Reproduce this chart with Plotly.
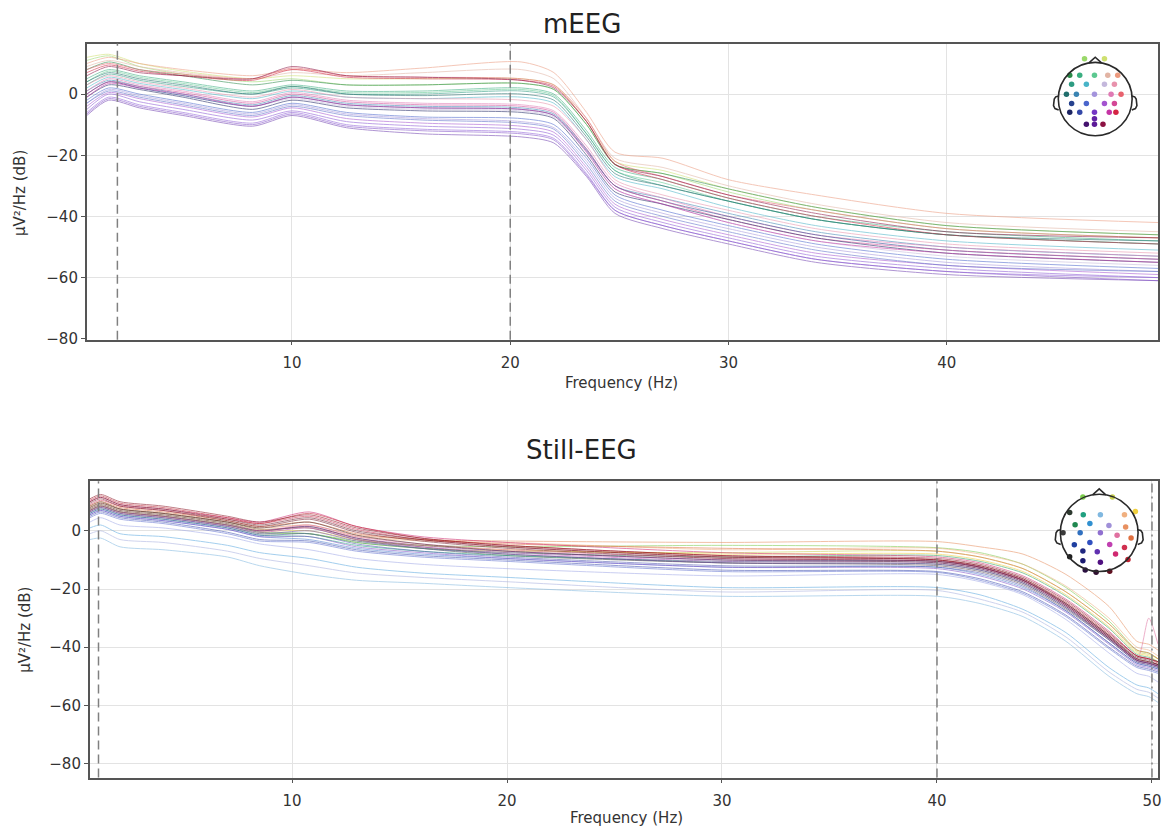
import plotly.graph_objects as go

W, H = 1163, 839

# ---------------------------------------------------------------- data: mEEG (top panel)
meeg_freqs = [0.6, 1.6, 3, 5, 8.2, 10, 12.5, 16, 20.5, 22, 23.5, 24.8, 27, 30, 34, 40, 49.7]

meeg_Fp1 = [11, 12.5, 9, 6.5, 4, 5, 3, 3, 3.5, 1.5, -10, -23, -26, -32, -38, -44, -47]
meeg_Fp2 = [12, 13, 10, 7.5, 5, 6, 5, 5, 5, 3, -9, -22, -25, -31, -37, -43, -46]
meeg_F7 = [8, 10.5, 8, 6, 3, 4.5, 3, 3, 3.5, 1.5, -10, -23, -26, -31, -37, -43, -46]
meeg_F3 = [5, 8, 6, 4, 1, 3, 1, 1, 2, 0, -12, -24, -28, -34, -40, -45, -48]
meeg_Fz = [4, 7.5, 5.5, 3.5, 0.5, 2.5, 0.5, 0.5, 1.5, -0.5, -13, -25, -29, -35, -41, -46, -49]
meeg_F4 = [9, 11, 9, 7, 5, 7, 6, 7, 8, 5, -8, -21, -24, -30, -36, -42, -45]
meeg_F8 = [10, 12, 10, 8, 6, 8, 7, 8.5, 10.5, 7, -6, -19, -21, -28, -33, -39, -42]
meeg_FC5 = [3, 6.5, 4.5, 2.5, 0, 2, 0, 0, 1, -1, -13, -25, -30, -35, -41, -46, -49]
meeg_FC1 = [2, 5.5, 3.5, 1.5, -1.5, 1, -1, -1.5, -1, -3, -15, -27, -31, -37, -43, -48, -51]
meeg_FC2 = [0, 4, 2, -0.5, -4, -1.5, -4, -5, -5.5, -7.5, -19, -31, -36, -42, -48, -53, -56]
meeg_FC6 = [3, 6, 4, 2, -1, 1.5, -1, -1.5, -2, -4, -15, -28, -33, -38, -44, -49, -52]
meeg_T7 = [4, 7, 5, 3, 0, 2.5, 0, -0.5, 0, -2, -14, -26, -30, -35, -41, -46, -48]
meeg_C3 = [1, 4.5, 2.5, 0, -3.5, -0.5, -3, -4, -4.5, -6.5, -18, -30, -34, -39, -45, -50, -53]
meeg_Cz = [-3, 1.5, -0.5, -3, -6.5, -3.5, -6.5, -8, -9, -11, -22, -34, -39, -44, -50, -55, -58]
meeg_C4 = [1, 5, 3, 1, -2.5, 0.5, -2, -3, -3.5, -5.5, -17, -29, -34, -40, -46, -50, -53]
meeg_T8 = [8, 10, 8, 6.5, 5, 8.5, 6, 5.5, 5, 3, -8, -22, -27, -33, -38, -44, -47]
meeg_CP5 = [0, 4, 2, -0.5, -4, -1, -3.5, -4.5, -5, -7, -18.5, -30, -35, -40, -46, -51, -54]
meeg_CP1 = [-2, 2, 0, -2.5, -6, -3, -6, -7.5, -8, -10, -21, -33, -38, -43, -49, -54, -57]
meeg_CP2 = [-4, 0.5, -1.5, -4, -7.5, -4.5, -8, -9.5, -10.5, -12.5, -24, -36, -41, -46, -52, -56, -59]
meeg_CP6 = [0, 4, 2.5, 0.5, -3, 0, -2.5, -3.5, -4, -6, -18, -30, -35, -41, -47, -51, -54]
meeg_P7 = [-1, 3, 1.5, -1, -5, -2, -4.5, -5.5, -6, -8, -20, -32, -36, -41, -47, -52, -55]
meeg_P3 = [-3, 1, -1, -3.5, -7, -4, -7, -8.5, -9.5, -11.5, -23, -35, -40, -45, -51, -56, -58]
meeg_Pz = [-5, 0, -2.5, -5, -8.5, -5.5, -9, -10.5, -11.5, -13.5, -25, -37, -42, -47, -53, -57, -60]
meeg_P4 = [-1, 3.5, 2, 0, -4, -1, -3.5, -4.5, -5, -7, -19, -31, -36, -42, -48, -52, -55]
meeg_P8 = [7, 9.5, 7.5, 6, 4.5, 8, 5.5, 5, 4.5, 2.5, -9, -23, -28, -34, -40, -46, -49]
meeg_POz = [-6, -1, -3.5, -6, -9.5, -6, -10, -11.5, -12.5, -14.5, -26, -38, -43, -48, -54, -58, -60]
meeg_O1 = [-7, -2, -4.5, -7, -10.5, -7, -11, -13, -14, -16, -27, -39, -44, -49, -55, -59, -61]
meeg_Oz = [-6.5, -1.5, -4, -6.5, -10, -6.5, -10.5, -12, -13, -15, -26.5, -38, -43, -48, -54, -58, -61]
meeg_O2 = [6, 9, 7, 6, 5, 9, 6, 5.5, 4.5, 2, -9, -23, -27, -33, -39, -45, -47]

meeg_channels = ["Fp1", "Fp2", "F7", "F3", "Fz", "F4", "F8", "FC5", "FC1", "FC2", "FC6",
                 "T7", "C3", "Cz", "C4", "T8", "CP5", "CP1", "CP2", "CP6",
                 "P7", "P3", "Pz", "P4", "P8", "POz", "O1", "Oz", "O2"]
meeg_colors = ["#9ad86a", "#cfe070", "#2a8a48", "#3aae80", "#5cc890", "#e2b4a4", "#ec9a7e",
               "#2e9c82", "#48b4c8", "#c4b8dc", "#e892ac", "#206e6c", "#3a84b2", "#a494dc",
               "#e07ab4", "#e8626e", "#26428e", "#4a66cc", "#a454d0", "#d44896", "#1c2462",
               "#5a6cc8", "#8a56d4", "#c434a4", "#d42444", "#9060d8", "#7040b0", "#8250c8",
               "#8c1242"]
meeg_sensor_x = [-0.29, 0.25, -0.69, -0.42, -0.02, 0.34, 0.61, -0.64, -0.24, 0.25, 0.52,
                 -0.78, -0.51, -0.02, 0.43, 0.70, -0.64, -0.24, 0.25, 0.52,
                 -0.69, -0.42, -0.02, 0.38, 0.56, -0.02, -0.24, -0.02, 0.21]
meeg_sensor_y = [1.10, 1.10, 0.65, 0.65, 0.65, 0.65, 0.65, 0.40, 0.40, 0.40, 0.40,
                 0.13, 0.13, 0.13, 0.13, 0.13, -0.12, -0.12, -0.12, -0.12,
                 -0.36, -0.36, -0.36, -0.36, -0.36, -0.54, -0.69, -0.69, -0.69]
meeg_dot_colors = ["#9ad86a", "#cfe070", "#2a8a48", "#3aae80", "#5cc890", "#e2b4a4", "#ec9a7e",
                   "#2e9c82", "#48b4c8", "#c4b8dc", "#e892ac", "#206e6c", "#3a84b2", "#a494dc",
                   "#e07ab4", "#e8626e", "#26428e", "#4a66cc", "#a454d0", "#d44896", "#1c2462",
                   "#3448a8", "#7436c4", "#c434a4", "#d42444", "#6222a4", "#44126e", "#5c1a98",
                   "#8c1242"]
meeg_band_edges = [2, 20]

# ---------------------------------------------------------------- data: Still-EEG (bottom panel)
still_freqs = [0.6, 1.1, 2, 4, 7, 8.5, 10.8, 13, 16, 20, 30, 40, 42, 44, 46, 48, 49.3, 49.85, 50.28]

still_Fp1 = [6.5, 8, 6, 4.5, 1.5, -1, -1, -3.5, -5, -5.5, -5, -5.8, -7.5, -11.5, -19.5, -31, -41, -42, -44]
still_Fp2 = [7, 8.5, 6.5, 5, 2, -0.5, -1, -4, -6, -7, -7.5, -7, -9, -13, -21, -32, -41.5, -42.5, -44]
still_F8 = [7, 8.5, 6.5, 5, 2, 0, 0, -3, -5, -6.5, -8, -8, -10, -14, -22, -33, -42, -43, -45]
still_F7 = [8.5, 10, 7.5, 6, 3, 0.5, 1, -3, -6, -8.5, -11, -11.5, -13.5, -18, -26.5, -37, -44.5, -45.5, -46.5]
still_F3 = [6, 7.5, 5.5, 4, 1, -1.5, -2, -5, -7, -8.5, -10.5, -10.5, -12.5, -17, -25, -36, -44, -45, -46]
still_Fz = [-3, -2.5, -5.5, -6.5, -9, -12, -15, -17, -18, -19.5, -22.5, -22.5, -25, -29.5, -38, -50, -56, -57, -59]
still_F4 = [7.5, 9, 7, 5.5, 2.5, 0.5, 1, -2, -3.5, -4, -6.5, -6, -8, -11.5, -19, -30, -40, -41, -43]
still_FC5 = [7, 8.5, 6.5, 5, 2, -0.5, -1, -4, -6, -7.5, -9, -8.5, -10.5, -14.5, -22.5, -33.5, -42.5, -43.5, -45]
still_FC1 = [1, 2, -1, -2, -5, -7.5, -9.5, -12.5, -14.5, -16, -19.5, -19.5, -22, -27, -35, -47, -53, -54, -56]
still_FC2 = [-1, 0, -3, -4, -7, -9.5, -12, -14.5, -16, -17.5, -21, -20.5, -23.5, -28, -36.5, -48.5, -54.5, -55.5, -57.5]
still_FC6 = [8, 9.5, 7.5, 6, 3, 1, 2, -1.5, -3, -3.5, -4, -3.7, -5.5, -8, -15, -26, -38, -39, -41]
still_T7 = [7.5, 9, 7, 5.5, 2.5, 0, 1.5, -2.5, -5.5, -8, -11, -12, -14, -18.5, -27, -37.5, -45, -46, -47]
still_C3 = [5.5, 7, 5, 3.5, 0.5, -2, -3, -6, -8, -9.5, -12.5, -12.5, -15, -19.5, -27.5, -38.5, -45.5, -46.5, -47.5]
still_Cz = [3, 4.5, 2, 1, -2, -4.5, -6.5, -9.5, -11.5, -13, -15.5, -15, -17.5, -22, -30.5, -42, -49, -50, -52]
still_C4 = [7, 8.5, 6.5, 5, 2, 0, 2, -2, -4.5, -6.5, -9.5, -10.5, -12.5, -17, -25.5, -36.5, -44, -30, -39]
still_T8 = [8.5, 10, 8, 6.5, 3.5, 1.5, 3, -1, -3, -4.5, -6, -7, -9, -13, -21, -32, -41, -42, -44]
still_CP5 = [5, 6.5, 4.5, 3, -0.5, -3, -3.5, -6.5, -8.5, -10, -13.5, -14, -16.5, -21, -29, -40, -46.5, -47.5, -48.5]
still_CP1 = [4.5, 6, 4, 2.5, -1, -3.5, -4, -7, -9, -10.5, -14, -14.3, -17, -21.5, -29.5, -40.5, -47, -48, -49]
still_CP2 = [6.5, 8, 6, 4.5, 1.5, -0.5, 1, -3, -5.5, -7.5, -10.5, -11, -13, -17.5, -26, -37, -44.5, -45.5, -46.5]
still_CP6 = [9, 10.5, 8.5, 7, 4, 2.5, 5, 0.5, -3, -5.5, -9, -10, -12.5, -17, -25, -36, -44, -45, -46]
still_P7 = [8, 9.5, 7.5, 6, 3, 1, 3, -1.5, -4.5, -7, -10, -11, -13, -17.5, -26, -37, -44.5, -45.5, -46.5]
still_P3 = [6, 7.5, 5.5, 4, 1, -1.5, -1, -4.5, -7, -9, -12, -12.5, -14.5, -19, -27.5, -38.5, -45.5, -46.5, -47.5]
still_Pz = [5.5, 7, 5, 3.5, 0.5, -2, -2, -5.5, -7.5, -9.5, -12.5, -13, -15.5, -20, -28, -39, -46, -47, -48]
still_P4 = [10, 11.5, 9, 7.5, 4.5, 3, 6.5, 1.5, -2, -4, -7.5, -9, -11, -15.5, -23.5, -34.5, -43, -44, -45]
still_P8 = [10.5, 12, 9.5, 8, 4.5, 2.5, 6, 1.5, -2.5, -5, -8.5, -10, -12, -16.5, -24.5, -35.5, -43, -44, -45.5]
still_PO3 = [6.5, 8, 6, 4.5, 1.5, -1, 0, -3.5, -6, -8, -11, -11.5, -13.5, -18, -26.5, -37.5, -45, -46, -47]
still_PO4 = [7, 8.5, 6.5, 5, 2, 0, 1.5, -2.5, -5, -7, -10, -10.5, -12.5, -17, -25.5, -36.5, -44.5, -45.5, -46.5]
still_O1 = [9.5, 11, 8.5, 7, 3.5, 1.5, 4, -0.5, -3.5, -6, -9.5, -10.5, -12.5, -17, -25.5, -36.5, -44, -45, -46]
still_Oz = [10, 11.5, 9, 7.5, 4, 2, 4.5, 0, -3, -5.5, -9, -10, -12, -16.5, -25, -36, -43.5, -44.5, -46]
still_O2 = [11, 12.5, 10, 8.5, 5, 3, 5.5, 1, -2.5, -5, -8.5, -9.5, -11.5, -16, -24, -35, -43, -44, -45]

still_channels = ["Fp1", "Fp2", "F8", "F7", "F3", "Fz", "F4", "FC5", "FC1", "FC2", "FC6",
                  "T7", "C3", "Cz", "C4", "T8", "CP5", "CP1", "CP2", "CP6",
                  "P7", "P3", "Pz", "P4", "P8", "PO3", "PO4", "O1", "Oz", "O2"]
still_colors = ["#7acb4a", "#c8d050", "#f0d040", "#4a5a48", "#20a080", "#80b8e0", "#f0b080",
                "#30a060", "#5aa8e0", "#a8b0e0", "#e89060", "#5a4a50", "#5080d0", "#a0a8e8",
                "#e070a0", "#e07040", "#4050b0", "#6070d0", "#c050c0", "#d03050",
                "#4a2a30", "#5058b0", "#8050c8", "#d02870", "#c02030", "#6a50b0", "#803090",
                "#7a2030", "#6a1a28", "#8a1020"]
still_dot_colors = ["#7acb4a", "#c8d050", "#f0d040", "#2e3a30", "#20a080", "#80b8e0", "#f0b080",
                    "#208850", "#3090d0", "#a090d8", "#e89060", "#3a3a3a", "#3070c0", "#9070d0",
                    "#e070a0", "#e07040", "#2040a0", "#3050c0", "#c040b0", "#d03050",
                    "#202020", "#202880", "#6030b0", "#d02870", "#c02030", "#1a1a70", "#501080",
                    "#2a1040", "#301030", "#601020"]
still_sensor_x = [-0.42, 0.34, 0.93, -0.76, -0.41, 0.03, 0.65, -0.62, -0.24, 0.25, 0.68,
                  -0.93, -0.49, 0.03, 0.46, 0.82, -0.64, -0.24, 0.27, 0.65,
                  -0.76, -0.42, -0.05, 0.42, 0.74, -0.42, 0.03, -0.36, -0.08, 0.27]
still_sensor_y = [0.93, 0.93, 0.55, 0.53, 0.47, 0.47, 0.47, 0.21, 0.24, 0.19, 0.15,
                  0.0, 0.0, 0.0, -0.06, -0.13, -0.31, -0.25, -0.30, -0.38,
                  -0.62, -0.47, -0.49, -0.55, -0.69, -0.72, -0.76, -0.96, -1.02, -0.99]
still_band_edges = [1, 40]
still_line_freq = [50]

meeg_xticks = [10, 20, 30, 40]
still_xticks = [10, 20, 30, 40, 50]
db_ticks = [-80, -60, -40, -20, 0]

meeg_psd = {
    "Fp1": meeg_Fp1, "Fp2": meeg_Fp2, "F7": meeg_F7, "F3": meeg_F3, "Fz": meeg_Fz,
    "F4": meeg_F4, "F8": meeg_F8, "FC5": meeg_FC5, "FC1": meeg_FC1, "FC2": meeg_FC2,
    "FC6": meeg_FC6, "T7": meeg_T7, "C3": meeg_C3, "Cz": meeg_Cz, "C4": meeg_C4,
    "T8": meeg_T8, "CP5": meeg_CP5, "CP1": meeg_CP1, "CP2": meeg_CP2, "CP6": meeg_CP6,
    "P7": meeg_P7, "P3": meeg_P3, "Pz": meeg_Pz, "P4": meeg_P4, "P8": meeg_P8,
    "POz": meeg_POz, "O1": meeg_O1, "Oz": meeg_Oz, "O2": meeg_O2,
}
still_psd = {
    "Fp1": still_Fp1, "Fp2": still_Fp2, "F8": still_F8, "F7": still_F7, "F3": still_F3,
    "Fz": still_Fz, "F4": still_F4, "FC5": still_FC5, "FC1": still_FC1, "FC2": still_FC2,
    "FC6": still_FC6, "T7": still_T7, "C3": still_C3, "Cz": still_Cz, "C4": still_C4,
    "T8": still_T8, "CP5": still_CP5, "CP1": still_CP1, "CP2": still_CP2, "CP6": still_CP6,
    "P7": still_P7, "P3": still_P3, "Pz": still_Pz, "P4": still_P4, "P8": still_P8,
    "PO3": still_PO3, "PO4": still_PO4, "O1": still_O1, "Oz": still_Oz, "O2": still_O2,
}

# ---------------------------------------------------------------- figure
fig = go.Figure()

for name, color in zip(meeg_channels, meeg_colors):
    fig.add_trace(go.Scatter(
        x=meeg_freqs, y=meeg_psd[name], mode="lines", name=name,
        line=dict(color=color, width=1.0, shape="spline", smoothing=0.7),
        opacity=0.55, xaxis="x", yaxis="y", showlegend=False, hoverinfo="skip"))

for name, color in zip(still_channels, still_colors):
    fig.add_trace(go.Scatter(
        x=still_freqs, y=still_psd[name], mode="lines", name=name,
        line=dict(color=color, width=1.0, shape="spline", smoothing=0.7),
        opacity=0.55, xaxis="x2", yaxis="y2", showlegend=False, hoverinfo="skip"))

# sensor-position insets
fig.add_trace(go.Scatter(
    x=meeg_sensor_x, y=meeg_sensor_y, mode="markers",
    marker=dict(size=5.5, color=meeg_dot_colors, line=dict(width=0)),
    xaxis="x3", yaxis="y3", showlegend=False, hoverinfo="skip"))
fig.add_trace(go.Scatter(
    x=still_sensor_x, y=still_sensor_y, mode="markers",
    marker=dict(size=5.5, color=still_dot_colors, line=dict(width=0)),
    xaxis="x4", yaxis="y4", showlegend=False, hoverinfo="skip"))

tickfont = dict(family="DejaVu Sans", size=15, color="#333")
axis_common = dict(showline=True, linecolor="#555", linewidth=1.5, mirror=True,
                   ticks="outside", ticklen=4, tickcolor="#555", tickwidth=1,
                   showgrid=True, gridcolor="#e3e3e3", gridwidth=1, zeroline=False,
                   tickfont=tickfont, ticklabeloverflow="allow")
inset_axis = dict(visible=False, showgrid=False, zeroline=False, fixedrange=True)

shapes = []
for f in meeg_band_edges:
    shapes.append(dict(type="line", xref="x", yref="y domain", x0=f, x1=f, y0=0, y1=1,
                       line=dict(color="#808080", width=1.5, dash="9px,5px")))
for f in still_band_edges:
    shapes.append(dict(type="line", xref="x2", yref="y2 domain", x0=f, x1=f, y0=0, y1=1,
                       line=dict(color="#808080", width=1.5, dash="9px,5px")))
for f in still_line_freq:
    shapes.append(dict(type="line", xref="x2", yref="y2 domain", x0=f, x1=f, y0=0, y1=1,
                       line=dict(color="#808080", width=1.5, dash="9px,4px,2px,4px")))

# head outlines
for xr, yr in (("x3", "y3"), ("x4", "y4")):
    shapes.append(dict(type="circle", xref=xr, yref=yr, x0=-1, y0=-1, x1=1, y1=1,
                       line=dict(color="#2a2a2a", width=1.6)))
    shapes.append(dict(type="path", xref=xr, yref=yr,
                       path="M -0.17 0.985 L 0 1.14 L 0.17 0.985",
                       line=dict(color="#2a2a2a", width=1.6)))
    shapes.append(dict(type="path", xref=xr, yref=yr,
                       path="M -0.995 0.08 L -1.07 0.06 L -1.11 0.0 L -1.13 -0.18 L -1.09 -0.26 L -0.99 -0.3",
                       line=dict(color="#2a2a2a", width=1.6)))
    shapes.append(dict(type="path", xref=xr, yref=yr,
                       path="M 0.995 0.08 L 1.07 0.06 L 1.11 0.0 L 1.13 -0.18 L 1.09 -0.26 L 0.99 -0.3",
                       line=dict(color="#2a2a2a", width=1.6)))

label_font = dict(family="DejaVu Sans", size=15, color="#333")
title_font = dict(family="DejaVu Sans", size=26, color="#222")
annotations = [
    dict(text="mEEG", x=584 / W, y=1 - 24 / H, xref="paper", yref="paper",
         xanchor="center", yanchor="middle", showarrow=False, font=title_font),
    dict(text="Still-EEG", x=584 / W, y=1 - 454 / H, xref="paper", yref="paper",
         xanchor="center", yanchor="middle", showarrow=False, font=title_font),
    dict(text="Frequency (Hz)", x=624 / W, y=1 - 387 / H, xref="paper", yref="paper",
         xanchor="center", yanchor="middle", showarrow=False, font=label_font),
    dict(text="Frequency (Hz)", x=629 / W, y=1 - 826 / H, xref="paper", yref="paper",
         xanchor="center", yanchor="middle", showarrow=False, font=label_font),
    dict(text="µV²/Hz (dB)", x=20 / W, y=1 - 195 / H, xref="paper", yref="paper",
         xanchor="center", yanchor="middle", textangle=-90, showarrow=False, font=label_font),
    dict(text="µV²/Hz (dB)", x=25 / W, y=1 - 636 / H, xref="paper", yref="paper",
         xanchor="center", yanchor="middle", textangle=-90, showarrow=False, font=label_font),
]

fig.update_layout(
    width=W, height=H,
    margin=dict(l=0, r=0, t=0, b=0),
    paper_bgcolor="white", plot_bgcolor="rgba(0,0,0,0)",
    showlegend=False,
    xaxis=dict(domain=[87 / W, 1162 / W], range=[0.594, 49.68], tickvals=meeg_xticks,
               anchor="y", ticklabelstandoff=5, **axis_common),
    yaxis=dict(domain=[1 - 343 / H, 1 - 44 / H], range=[-80.3, 16.5], tickvals=db_ticks,
               anchor="x", **axis_common),
    xaxis2=dict(domain=[90 / W, 1162 / W], range=[0.59, 50.28], tickvals=still_xticks,
                anchor="y2", ticklabelstandoff=5, **axis_common),
    yaxis2=dict(domain=[1 - 785 / H, 1 - 486 / H], range=[-84.8, 17], tickvals=db_ticks,
                anchor="x2", **axis_common),
    xaxis3=dict(domain=[1049 / W, 1149 / W], range=[-1.35, 1.35], anchor="y3", **inset_axis),
    yaxis3=dict(domain=[1 - 150 / H, 1 - 50 / H], range=[-1.35, 1.35], anchor="x3", **inset_axis),
    xaxis4=dict(domain=[1051 / W, 1155 / W], range=[-1.333, 1.333], anchor="y4", **inset_axis),
    yaxis4=dict(domain=[1 - 590 / H, 1 - 486 / H], range=[-1.333, 1.333], anchor="x4", **inset_axis),
    shapes=shapes,
    annotations=annotations,
)

fig.write_html("out.html")
